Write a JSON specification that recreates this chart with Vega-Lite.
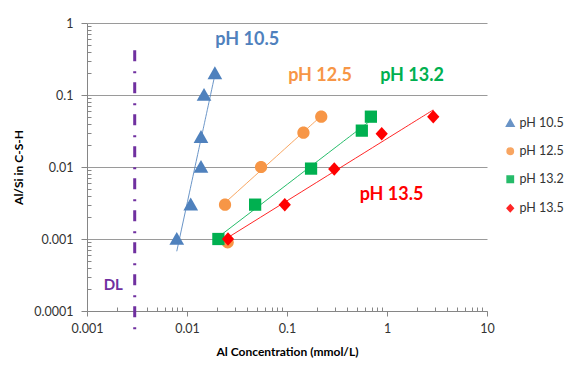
{
  "$schema": "https://vega.github.io/schema/vega-lite/v6.json",
  "width": 400,
  "height": 288,
  "autosize": {"type": "none"},
  "padding": {"left": 87, "top": 23, "right": 83, "bottom": 61},
  "background": "white",
  "config": {"view": {"stroke": null}, "font": "Lato"},
  "encoding": {
    "x": {
      "field": "conc", "type": "quantitative",
      "scale": {"type": "log", "domain": [0.001, 10]},
      "axis": {
        "title": "Al Concentration (mmol/L)",
        "titleFont": "Lato", "titleFontSize": 12, "titleFontWeight": "bold", "titleColor": "#000", "titlePadding": 12,
        "values": [0.001,0.002,0.003,0.004,0.005,0.006,0.007,0.008,0.009,0.01,0.02,0.03,0.04,0.05,0.06,0.07,0.08,0.09,0.1,0.2,0.3,0.4,0.5,0.6,0.7,0.8,0.9,1,2,3,4,5,6,7,8,9,10],
        "labelExpr": "abs(log(datum.value)/LN10 - round(log(datum.value)/LN10)) < 0.001 ? format(datum.value, '~g') : ''",
        "labelOverlap": false, "labelBound": false, "labelFlush": false,
        "labelFontSize": 12.5, "labelColor": "#333", "labelPadding": 6,
        "grid": false,
        "domainColor": "#868686", "tickColor": "#868686",
        "tickSize": {"condition": {"test": "abs(log(datum.value)/LN10 - round(log(datum.value)/LN10)) < 0.001", "value": 5}, "value": -4}
      }
    },
    "y": {
      "field": "alsi", "type": "quantitative",
      "scale": {"type": "log", "domain": [0.0001, 1]},
      "axis": {
        "title": "Al/Si in C-S-H",
        "titleFont": "Lato", "titleFontSize": 12, "titleFontWeight": "bold", "titleColor": "#000", "titlePadding": 8,
        "values": [0.0001,0.0002,0.0003,0.0004,0.0005,0.0006,0.0007,0.0008,0.0009,0.001,0.002,0.003,0.004,0.005,0.006,0.007,0.008,0.009,0.01,0.02,0.03,0.04,0.05,0.06,0.07,0.08,0.09,0.1,0.2,0.3,0.4,0.5,0.6,0.7,0.8,0.9,1],
        "labelExpr": "abs(log(datum.value)/LN10 - round(log(datum.value)/LN10)) < 0.001 ? format(datum.value, '~g') : ''",
        "labelOverlap": false, "labelBound": false, "labelFlush": false,
        "labelFontSize": 12.5, "labelColor": "#333", "labelPadding": 8,
        "grid": true, "gridColor": "#9a9a9a", "gridWidth": 1,
        "gridOpacity": {"condition": {"test": "abs(log(datum.value)/LN10 - round(log(datum.value)/LN10)) < 0.001", "value": 1}, "value": 0},
        "domainColor": "#868686", "tickColor": "#868686",
        "tickSize": {"condition": {"test": "abs(log(datum.value)/LN10 - round(log(datum.value)/LN10)) < 0.001", "value": 6}, "value": -4}
      }
    }
  },
  "datasets": {
    "points": [
      {"series": "pH 10.5", "conc": 0.019, "alsi": 0.2, "trend": true},
      {"series": "pH 10.5", "conc": 0.0148, "alsi": 0.1, "trend": true},
      {"series": "pH 10.5", "conc": 0.0138, "alsi": 0.026, "trend": true},
      {"series": "pH 10.5", "conc": 0.0138, "alsi": 0.01, "trend": true},
      {"series": "pH 10.5", "conc": 0.0109, "alsi": 0.003, "trend": true},
      {"series": "pH 10.5", "conc": 0.0079, "alsi": 0.001, "trend": true},
      {"series": "pH 12.5", "conc": 0.024, "alsi": 0.003, "trend": true},
      {"series": "pH 12.5", "conc": 0.055, "alsi": 0.01, "trend": true},
      {"series": "pH 12.5", "conc": 0.146, "alsi": 0.03, "trend": true},
      {"series": "pH 12.5", "conc": 0.22, "alsi": 0.05, "trend": true},
      {"series": "pH 12.5", "conc": 0.0255, "alsi": 0.0009, "trend": false},
      {"series": "pH 13.2", "conc": 0.0206, "alsi": 0.001, "trend": true},
      {"series": "pH 13.2", "conc": 0.048, "alsi": 0.003, "trend": true},
      {"series": "pH 13.2", "conc": 0.174, "alsi": 0.0095, "trend": true},
      {"series": "pH 13.2", "conc": 0.56, "alsi": 0.032, "trend": true},
      {"series": "pH 13.2", "conc": 0.69, "alsi": 0.05, "trend": true},
      {"series": "pH 13.5", "conc": 0.0257, "alsi": 0.001, "trend": true},
      {"series": "pH 13.5", "conc": 0.095, "alsi": 0.003, "trend": true},
      {"series": "pH 13.5", "conc": 0.297, "alsi": 0.0094, "trend": true},
      {"series": "pH 13.5", "conc": 0.885, "alsi": 0.029, "trend": true},
      {"series": "pH 13.5", "conc": 2.9, "alsi": 0.05, "trend": true}
    ],
    "labels": [
      {"series": "pH 10.5", "label": "pH 10.5", "conc": 0.04, "alsi": 0.58},
      {"series": "pH 12.5", "label": "pH 12.5", "conc": 0.214, "alsi": 0.184},
      {"series": "pH 13.2", "label": "pH 13.2", "conc": 1.78, "alsi": 0.184},
      {"series": "pH 13.5", "label": "pH 13.5", "conc": 1.11, "alsi": 0.0041}
    ],
    "dl": [
      {"label": "DL", "conc": 0.003, "alsi": 0.42, "alsi2": 0.000051, "labelConc": 0.00183, "labelAlsi": 0.00023}
    ]
  },
  "layer": [
    {
      "data": {"name": "points"},
      "transform": [
        {"filter": "datum.trend"},
        {"regression": "alsi", "on": "conc", "method": "pow", "groupby": ["series"]}
      ],
      "mark": {"type": "line", "strokeWidth": 1, "opacity": 0.85},
      "encoding": {
        "color": {"field": "series", "type": "nominal"}
      }
    },
    {
      "data": {"name": "points"},
      "mark": {"type": "point", "filled": true, "opacity": 1, "size": 150},
      "encoding": {
        "color": {"field": "series", "type": "nominal",
          "scale": {"domain": ["pH 10.5", "pH 12.5", "pH 13.2", "pH 13.5"], "range": ["#4F81BD", "#F79646", "#00B050", "#FF0000"]},
          "legend": {"orient": "none", "legendX": 417, "legendY": 94, "title": null, "labelFontSize": 12.5, "labelColor": "#333", "symbolSize": 40, "rowPadding": 15, "padding": 0, "labelOffset": 3,
            "encode": {"symbols": {"update": {"size": {"value": 40}}}}}},
        "shape": {"field": "series", "type": "nominal",
          "scale": {"domain": ["pH 10.5", "pH 12.5", "pH 13.2", "pH 13.5"], "range": ["M0,-1.15L1.2,0.95L-1.2,0.95Z", "M1,0A1,1,0,1,1,-1,0A1,1,0,1,1,1,0Z", "M-1,-1L1,-1L1,1L-1,1Z", "M0,-1.1L1,0L0,1.1L-1,0Z"]}}
      }
    },
    {
      "data": {"name": "labels"},
      "mark": {"type": "text", "fontSize": 18, "fontWeight": "bold", "align": "center", "baseline": "middle"},
      "encoding": {
        "text": {"field": "label"},
        "color": {"field": "series", "type": "nominal"}
      }
    },
    {
      "data": {"name": "dl"},
      "mark": {"type": "rule", "color": "#7030A0", "strokeWidth": 3, "strokeDash": [11, 10, 2, 9]},
      "encoding": {
        "y2": {"field": "alsi2"}
      }
    },
    {
      "data": {"name": "dl"},
      "mark": {"type": "text", "fontSize": 15, "fontWeight": "bold", "align": "center", "baseline": "middle", "color": "#7030A0"},
      "encoding": {
        "x": {"field": "labelConc", "type": "quantitative"},
        "y": {"field": "labelAlsi", "type": "quantitative"},
        "text": {"field": "label"}
      }
    }
  ]
}
